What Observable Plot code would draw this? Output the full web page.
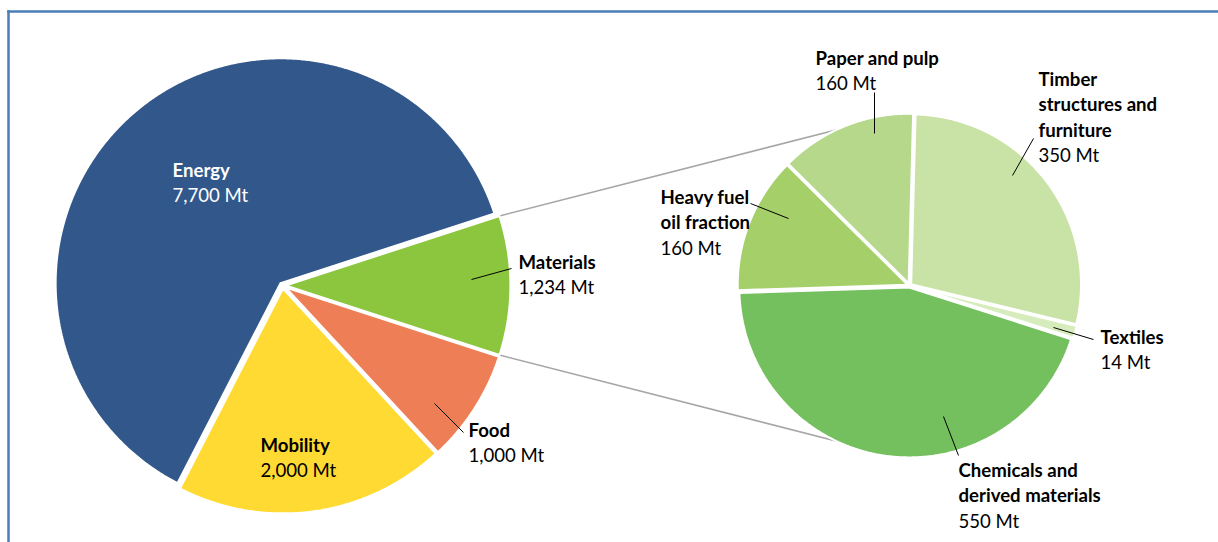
<!DOCTYPE html>
<html>
<head>
<meta charset="utf-8">
<script src="https://cdn.jsdelivr.net/npm/d3@7"></script>
<script src="https://cdn.jsdelivr.net/npm/@observablehq/plot@0.6"></script>
<style>
  html, body { margin: 0; padding: 0; background: #ffffff; }
  #chart svg { display: block; }
</style>
</head>
<body>
<div id="chart"></div>
<script>
// ---------------- DATA ----------------
// Main pie (clockwise order, "Materials" is the slice split into the second pie)
const mainCategories = ["Materials", "Food", "Mobility", "Energy"];
// slice sizes as drawn in the picture (Mobility's wedge spans ~70°, wider than its printed label)
const mainValues = [1234, 1000, 2400, 7700];
const mainValueLabels = ["1,234 Mt", "1,000 Mt", "2,000 Mt", "7,700 Mt"];

// Second pie: breakdown of Materials (clockwise from top)
const subCategories = ["Timber structures and furniture", "Textiles", "Chemicals and derived materials", "Heavy fuel oil fraction", "Paper and pulp"];
const subValues = [350, 14, 550, 160, 160];
const subValueLabels = ["350 Mt", "14 Mt", "550 Mt", "160 Mt", "160 Mt"];

// ---------------- STYLE / LAYOUT ----------------
const mainColors = ["#8CC63F", "#EE7E55", "#FFDA33", "#32578B"];
const subColors = ["#C8E3A5", "#D6ECBD", "#74BF5E", "#A4CF69", "#B5D88A"];

const W = 1218, H = 542;
const layout = {
  main: {cx: 282, cy: 285, r: 225, explode: 3},
  sub: {cx: 909, cy: 285, r: 170, explode: 2, startDeg: 1.5},
  connectorDeg: 21,
  lineStep: 25.5,
  font: "Lato, 'Open Sans', sans-serif",
  fontSize: 18.6,
  labels: {
    "Energy": {x: 172, y: 176, lines: ["Energy"], white: true},
    "Materials": {x: 518, y: 268, lines: ["Materials"]},
    "Mobility": {x: 260, y: 451, lines: ["Mobility"]},
    "Food": {x: 468, y: 436, lines: ["Food"]},
    "Paper and pulp": {x: 815, y: 64, lines: ["Paper and pulp"]},
    "Timber structures and furniture": {x: 1038, y: 85, lines: ["Timber", "structures and", "furniture"]},
    "Heavy fuel oil fraction": {x: 660, y: 203, lines: ["Heavy fuel", "oil fraction"]},
    "Textiles": {x: 1100, y: 343, lines: ["Textiles"]},
    "Chemicals and derived materials": {x: 958, y: 476, lines: ["Chemicals and", "derived materials"]}
  },
  leaders: [
    {x1: 471, y1: 279, x2: 511, y2: 268},
    {x1: 434, y1: 403, x2: 463, y2: 432},
    {x1: 874, y1: 133, x2: 874, y2: 92},
    {x1: 1012, y1: 175, x2: 1033, y2: 138},
    {x1: 788, y1: 218, x2: 750, y2: 203},
    {x1: 1053, y1: 327, x2: 1093, y2: 339},
    {x1: 943, y1: 416, x2: 958, y2: 455}
  ]
};

// ---------------- GEOMETRY (from the data via d3.pie) ----------------
const rad = Math.PI / 180;
function pieSlices(cats, vals, geo, startRad) {
  const arcs = d3.pie().sort(null).startAngle(startRad).endAngle(startRad + 2 * Math.PI)(vals);
  return arcs.map((a, i) => {
    const mid = (a.startAngle + a.endAngle) / 2;
    const ox = geo.cx + geo.explode * Math.sin(mid);
    const oy = geo.cy - geo.explode * Math.cos(mid);
    const pts = [{key: cats[i], x: ox, y: oy}];
    const n = Math.max(2, Math.ceil((a.endAngle - a.startAngle) / (0.4 * rad)));
    for (let k = 0; k <= n; k++) {
      const t = a.startAngle + (a.endAngle - a.startAngle) * k / n;
      pts.push({key: cats[i], x: ox + geo.r * Math.sin(t), y: oy - geo.r * Math.cos(t)});
    }
    pts.push({key: cats[i], x: ox, y: oy});
    return {key: cats[i], arc: a, ox, oy, pts};
  });
}

const mainTotal = d3.sum(mainValues);
const mainStart = (90 - 180 * mainValues[0] / mainTotal) * rad; // split slice centred at 3 o'clock
const mainSlices = pieSlices(mainCategories, mainValues, layout.main, mainStart);
const subSlices = pieSlices(subCategories, subValues, layout.sub, layout.sub.startDeg * rad);

const slicePoints = [...mainSlices, ...subSlices].flatMap(s => s.pts);

// connector lines between the split slice and the second pie
const mat = mainSlices[0];
const pOn = (s, t) => ({x: s.ox + layout.main.r * Math.sin(t), y: s.oy - layout.main.r * Math.cos(t)});
const subAt = deg => ({x: layout.sub.cx + layout.sub.r * Math.sin(deg * rad), y: layout.sub.cy - layout.sub.r * Math.cos(deg * rad)});
const cTop0 = pOn(mat, mat.arc.startAngle), cTop1 = subAt(360 - layout.connectorDeg);
const cBot0 = pOn(mat, mat.arc.endAngle), cBot1 = subAt(180 + layout.connectorDeg);
const connectors = [
  {x1: cTop0.x, y1: cTop0.y, x2: cTop1.x, y2: cTop1.y},
  {x1: cBot0.x, y1: cBot0.y, x2: cBot1.x, y2: cBot1.y}
];

// label lines
const allCats = [...mainCategories, ...subCategories];
const allValueLabels = [...mainValueLabels, ...subValueLabels];
const nameLines = [], valueLines = [];
allCats.forEach((c, i) => {
  const L = layout.labels[c];
  L.lines.forEach((t, j) => nameLines.push({text: t, x: L.x, y: L.y + j * layout.lineStep, white: !!L.white}));
  valueLines.push({text: allValueLabels[i], x: L.x, y: L.y + L.lines.length * layout.lineStep, white: !!L.white});
});

const textOpts = {x: "x", y: "y", text: "text", textAnchor: "start", lineAnchor: "bottom", fontSize: layout.fontSize};

const chart = Plot.plot({
  width: W,
  height: H,
  marginTop: 11, marginLeft: 8, marginRight: 0, marginBottom: 0,
  x: {domain: [0, W], range: [0, W], axis: null},
  y: {domain: [0, H], range: [0, H], axis: null},
  color: {domain: allCats, range: [...mainColors, ...subColors]},
  style: {fontFamily: layout.font, fontSize: layout.fontSize + "px", background: "#ffffff", overflow: "visible"},
  marks: [
    Plot.frame({anchor: "top", stroke: "#4A7DBA", strokeWidth: 2.5}),
    Plot.frame({anchor: "left", stroke: "#4A7DBA", strokeWidth: 2.5}),
    Plot.link(connectors, {x1: "x1", y1: "y1", x2: "x2", y2: "y2", stroke: "#A6A6A6", strokeWidth: 1.6}),
    Plot.line(slicePoints, {x: "x", y: "y", z: "key", fill: "key", stroke: "white", strokeWidth: 2.2, strokeLinejoin: "miter", curve: "linear"}),
    Plot.link(layout.leaders, {x1: "x1", y1: "y1", x2: "x2", y2: "y2", stroke: "#000000", strokeWidth: 1}),
    Plot.text(nameLines.filter(d => !d.white), {...textOpts, fill: "#000000", fontWeight: "bold"}),
    Plot.text(nameLines.filter(d => d.white), {...textOpts, fill: "#ffffff", fontWeight: "bold"}),
    Plot.text(valueLines.filter(d => !d.white), {...textOpts, fill: "#000000"}),
    Plot.text(valueLines.filter(d => d.white), {...textOpts, fill: "#ffffff"})
  ]
});
document.getElementById("chart").appendChild(chart);
</script>
</body>
</html>
